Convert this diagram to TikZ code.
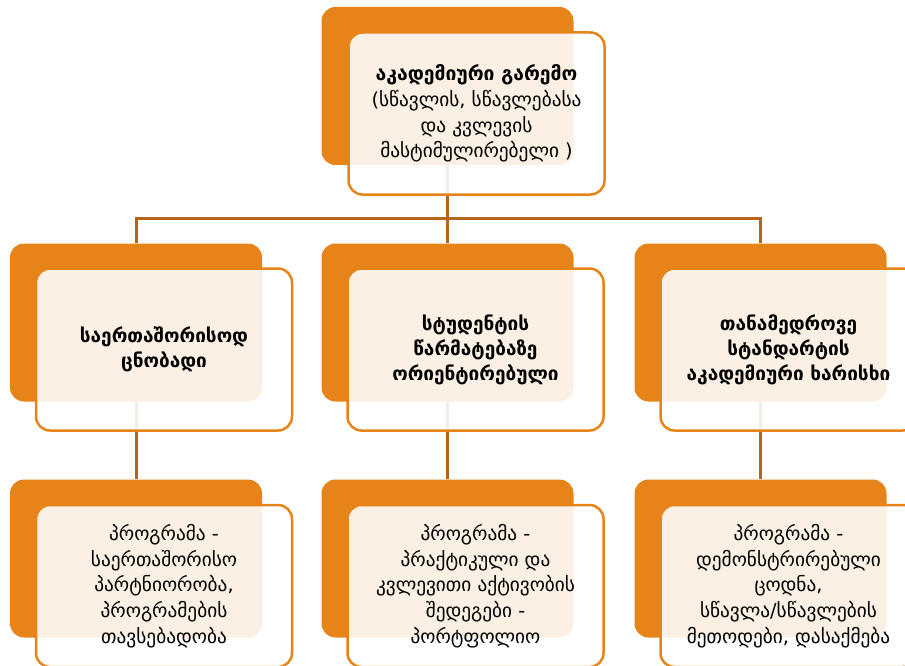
\documentclass[tikz,border=0pt]{standalone}
\usepackage{fontspec}
\setmainfont{DejaVu Sans}
\definecolor{orng}{HTML}{E6841A}
\definecolor{lnk}{HTML}{B8651A}
\begin{document}
\begin{tikzpicture}[x=1pt,y=-1pt,
  backbox/.style={fill=orng, draw=none, rounded corners=14pt, minimum width=252pt, minimum height=158pt, inner sep=0pt},
  frontbox/.style={fill=white, fill opacity=0.88, text opacity=1, draw=orng, draw opacity=1, line width=2.5pt, rounded corners=14pt, minimum width=256pt, minimum height=162pt, inner sep=0pt, align=center, font=\fontsize{19.3}{25.8}\selectfont},
  boldfront/.style={frontbox, font=\fontsize{19}{25}\selectfont\bfseries},
  link/.style={draw=lnk, line width=3pt}]
\useasboundingbox (0,0) rectangle (905,666);
\clip (0,0) rectangle (905,666);
% back boxes
\node[backbox] (tb) at (447.5,86) {};
\node[backbox] (m1b) at (136,322.5) {};
\node[backbox] (m2b) at (447.5,322.5) {};
\node[backbox] (m3b) at (760.5,322.5) {};
\node[backbox] (b1b) at (136,558.5) {};
\node[backbox] (b2b) at (447.5,558.5) {};
\node[backbox] (b3b) at (760.5,558.5) {};
% connectors
\coordinate (hub) at (447.5,218);
\draw[link] (tb.south) -- (hub);
\draw[link] (hub) -| (m1b.north);
\draw[link] (hub) -- (m2b.north);
\draw[link] (hub) -| (m3b.north);
\draw[link] (m1b.south) -- (b1b.north);
\draw[link] (m2b.south) -- (b2b.north);
\draw[link] (m3b.south) -- (b3b.north);
% front boxes
\node[frontbox] (tf) at (476.5,113.5) {{\bfseries აკადემიური გარემო}\\(სწავლის, სწავლებასა\\და კვლევის\\მასტიმულირებელი )};
\node[boldfront] (m1f) at (164,349.5) {საერთაშორისოდ\\ცნობადი};
\node[boldfront] (m2f) at (475.5,349.5) {სტუდენტის\\წარმატებაზე\\ორიენტირებული};
\node[boldfront] (m3f) at (788.5,349.5) {თანამედროვე\\სტანდარტის\\აკადემიური ხარისხი};
\node[frontbox] (b1f) at (164,586) {პროგრამა -\\საერთაშორისო\\პარტნიორობა,\\პროგრამების\\თავსებადობა};
\node[frontbox] (b2f) at (475.5,586) {პროგრამა -\\პრაქტიკული და\\კვლევითი აქტივობის\\შედეგები -\\პორტფოლიო};
\node[frontbox] (b3f) at (788.5,586) {პროგრამა -\\დემონსტრირებული\\ცოდნა,\\სწავლა/სწავლების\\მეთოდები, დასაქმება};
\end{tikzpicture}
\end{document}
